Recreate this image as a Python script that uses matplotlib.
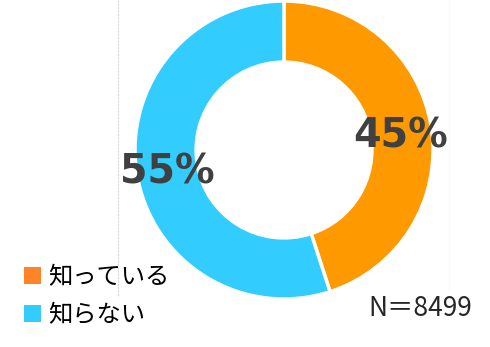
import matplotlib.pyplot as plt
from matplotlib.patches import Patch

# データ
labels = ['知っている', '知らない']
values = [45, 55]
slice_colors = ['#FF9900', '#33CCFF']
legend_colors = ['#FF8427', '#33CCFF']
n_text = 'N＝8499'

plt.rcParams['font.family'] = ['Noto Sans CJK JP', 'DejaVu Sans']

W, H = 490, 347
fig = plt.figure(figsize=(W / 100, H / 100), dpi=100)

# 円の中心 (284,150) 半径 149 px
cx, cy, r = 284, 150, 149
ax = fig.add_axes([(cx - r) / W, (H - cy - r) / H, 2 * r / W, 2 * r / H])

wedges, texts, autotexts = ax.pie(
    values, colors=slice_colors, startangle=90, counterclock=False,
    radius=1, autopct='%d%%', pctdistance=0.79,
    wedgeprops=dict(width=0.41, edgecolor='white', linewidth=2.5),
    textprops=dict(fontsize=28.5, fontweight='bold', color='#404040',
                   family='DejaVu Sans'))
# ラベルを少し下へ
for t in autotexts:
    x, y = t.get_position()
    t.set_position((x, y - 0.03))
ax.set_xlim(-1, 1)
ax.set_ylim(-1, 1)
ax.set_aspect('equal')
ax.axis('off')

# 左側の薄い縦線
fig.add_artist(plt.Line2D([118 / W, 118 / W], [1, 1 - 297 / H],
                          color='#d9d9d9', lw=0.8, ls=(0, (2, 1))))
fig.add_artist(plt.Line2D([449 / W, 449 / W], [1, 1 - 290 / H],
                          color='#fafafa', lw=0.8))

handles = [Patch(facecolor=c, edgecolor='none') for c in legend_colors]
fig.legend(handles, labels, loc='upper left', bbox_to_anchor=(24 / W, 1 - 264 / H),
           frameon=False, fontsize=17.5, handlelength=0.7, handleheight=0.7,
           handletextpad=0.3, labelspacing=0.5, borderpad=0, borderaxespad=0)

fig.text(472 / W, 1 - 308 / H, n_text, ha='right', va='center',
         fontsize=19, color='#262626')

fig.savefig('out.png', dpi=100)
